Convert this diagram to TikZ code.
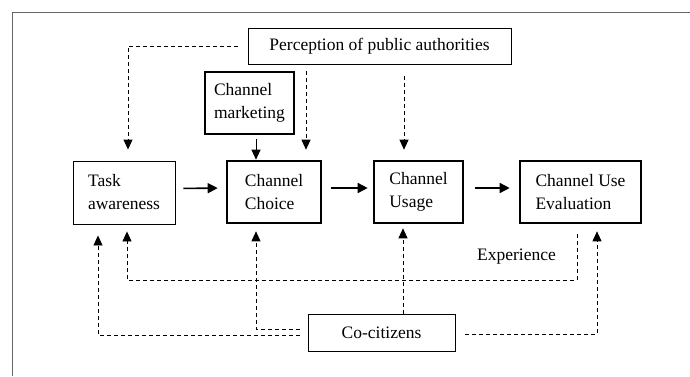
\documentclass[tikz,border=0pt]{standalone}
\usepackage{fontspec}
\setmainfont{Liberation Serif}
\usetikzlibrary{arrows.meta}

\begin{document}
\begin{tikzpicture}[x=1pt,y=-1pt,
  box/.style={draw,line width=0.9pt,inner sep=0pt,align=left,font=\fontsize{17.5}{23}\selectfont},
  boldbox/.style={box,line width=2.6pt},
  flow/.style={line width=1.6pt,-{Triangle[length=10pt,width=10pt]}},
  influence/.style={line width=0.9pt,dash pattern=on 4pt off 3pt,-{Triangle[length=10pt,width=9pt]}}]

\useasboundingbox (0,0) rectangle (690,376);
\draw[black!60,line width=1pt] (12,376) -- (12,12) -- (690,12);

% boxes
\node[box,minimum width=263pt,minimum height=36pt] (perc) at (379.5,46) {Perception of public authorities};
\node[boldbox,minimum width=89pt,minimum height=62pt] (mkt) at (249.5,103) {Channel\\marketing};
\node[box,minimum width=102pt,minimum height=63pt] (task) at (124,192.5) {Task\\awareness};
\node[boldbox,minimum width=94pt,minimum height=62pt] (choice) at (274,192) {Channel\\Choice};
\node[boldbox,minimum width=89pt,minimum height=62pt] (usage) at (418.5,192) {Channel\\Usage};
\node[boldbox,minimum width=121pt,minimum height=62pt] (eval) at (580.5,192) {Channel Use\\Evaluation};
\node[box,minimum width=147pt,minimum height=37pt] (cocit) at (381.5,332.5) {Co-citizens};
\node[font=\fontsize{17.5}{23}\selectfont,inner sep=0pt] (exp) at (516.5,257) {Experience};

% main chain
\draw[flow,shorten <=8pt,shorten >=8pt] ([yshift=4pt]task.east) -- ([yshift=4pt]choice.west);
\draw[flow,shorten <=9pt,shorten >=5pt] ([yshift=4pt]choice.east) -- ([yshift=4pt]usage.west);
\draw[flow,shorten <=11pt,shorten >=9pt] ([yshift=4pt]usage.east) -- ([yshift=4pt]eval.west);
\draw[line width=1pt,-{Triangle[length=10pt,width=9pt]},shorten <=4pt] ([xshift=6.5pt]mkt.south) -- ([xshift=6.5pt]mkt.south |- choice.north);

% perception
\draw[influence,shorten <=10pt,shorten >=11pt] (perc.west) -| ([xshift=4pt]task.north);
\draw[influence,shorten <=7pt,shorten >=10pt] ([xshift=32pt]choice.north |- perc.south) -- ([xshift=32pt]choice.north);
\draw[influence,shorten <=12pt,shorten >=10pt] ([xshift=-14.5pt]usage.north |- perc.south) -- ([xshift=-14.5pt]usage.north);

% experience
\draw[influence,shorten <=10pt,shorten >=7pt] ([xshift=-3.5pt]eval.south) -- ++(0,56) -| ([xshift=3pt]task.south);

% co-citizens
\draw[influence,shorten <=8pt,shorten >=11pt] ([yshift=-2.5pt]cocit.west) -| ([xshift=-26pt]task.south);
\draw[influence,shorten <=8pt,shorten >=7pt] ([yshift=3.5pt]cocit.west) -| ([xshift=-18pt]choice.south);
\draw[influence,shorten >=4pt] ([xshift=21.5pt]cocit.north) -- ([xshift=21.5pt]cocit.north |- usage.south);
\draw[influence,shorten <=10pt,shorten >=7pt] ([yshift=-1.5pt]cocit.east) -| ([xshift=16.5pt]eval.south);
\end{tikzpicture}
\end{document}
